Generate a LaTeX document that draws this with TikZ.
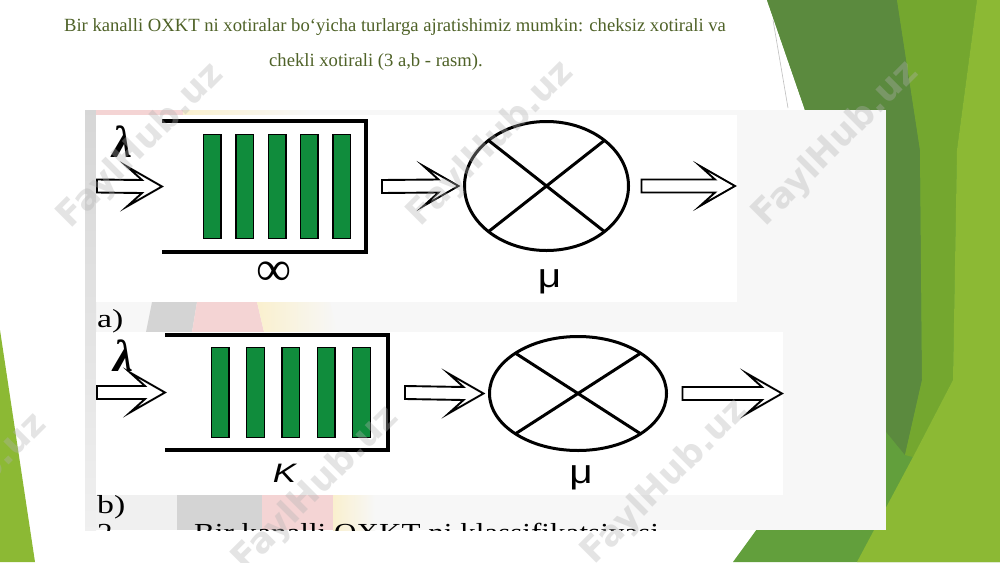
\documentclass[tikz,border=0pt]{standalone}
\usepackage{fontspec}
\setmainfont{Liberation Serif}
\newfontfamily\sansf{Liberation Sans}
\newfontfamily\wmf{DejaVu Sans}
\usetikzlibrary{calc,positioning,shapes.geometric}

\definecolor{titlegreen}{RGB}{79,98,40}
\definecolor{bargreen}{RGB}{16,140,60}
\definecolor{darkfacet}{RGB}{91,138,62}
\definecolor{midfacet}{RGB}{98,159,60}
\definecolor{brightfacet}{RGB}{116,167,47}
\definecolor{limefacet}{RGB}{140,185,52}
\definecolor{panelgrey}{RGB}{247,247,247}
\definecolor{bandgrey}{RGB}{212,212,212}
\definecolor{bandpink}{RGB}{244,212,212}
\definecolor{bandyellow}{RGB}{250,240,206}

\tikzstyle{queue}  = [rectangle, inner sep=0pt, outer sep=0pt]
\tikzstyle{server} = [ellipse, draw, line width=1.5mm, inner sep=0pt, outer sep=0pt]
\tikzstyle{flow}   = [draw=black, fill=white, line width=0.95mm, line join=miter]

\newcommand{\flow}[2]{\draw[flow] ($(#1)+(0,-6.5)$) -- ($(#2)+(-20,-6.5)$) -- ($(#2)+(-35,-20)$) -- (#2)
  -- ($(#2)+(-35,20)$) -- ($(#2)+(-20,6.5)$) -- ($(#1)+(0,6.5)$) -- cycle;}

\begin{document}
\begin{tikzpicture}[x=0.5mm, y=-0.5mm,
    slot/.style={draw, fill=bargreen, line width=0.7mm, minimum width=8.8mm, inner sep=0pt},
    wall/.style={line width=1.75mm},
    lbl/.style={font=\fontsize{37}{37}\selectfont, xscale=1.3, anchor=base west, inner sep=0pt},
    sym/.style={inner sep=0pt},
    wmtext/.style={font=\wmf\bfseries\fontsize{50}{50}\selectfont, text=gray!60, opacity=0.35, rotate=45}]

  \useasboundingbox (0,0) rectangle (1000,562);
  \fill[white] (0,0) rectangle (1000,562);

  \fill[midfacet] (767,0) -- (1000,0) -- (1000,562) -- (733,562) -- (800,470) -- (805,110) -- cycle;
  \fill[darkfacet] (767,0) -- (897,0) -- (920,150) -- (922,380) -- (905,455) -- (860,400) -- (805,110) -- cycle;
  \fill[brightfacet] (897,0) -- (977,0) -- (957,150) -- (953,380) -- (913,457) -- (905,455) -- (922,380) -- (920,150) -- cycle;
  \fill[limefacet] (977,0) -- (1000,0) -- (1000,562) -- (857,562) -- (913,457) -- (953,380) -- (957,150) -- cycle;
  \fill[limefacet] (0,330) -- (35,562) -- (0,562) -- cycle;
  \draw[black!25, line width=0.3mm] (773,20) -- (788,108);

  \fill[panelgrey] (85,110) rectangle (886,530);
  \shade[top color=black!16, bottom color=black!6] (85,110) rectangle (96,530);
  \fill[bandpink] (96,110) rectangle (183,115);
  \shade[left color=bandyellow, right color=panelgrey] (183,110) rectangle (310,115);
  \fill[bandgrey] (152,302) -- (197,302) -- (192,332) -- (146,332) -- cycle;
  \fill[bandpink] (197,302) -- (257,302) -- (264,332) -- (192,332) -- cycle;
  \shade[left color=bandyellow, right color=panelgrey] (257,302) -- (330,302) -- (337,332) -- (264,332) -- cycle;
  \fill[black!6] (96,495) rectangle (177,530);
  \fill[bandgrey] (177,495) rectangle (262,530);
  \fill[bandpink] (262,495) rectangle (333,530);
  \shade[left color=bandyellow, right color=panelgrey] (333,495) rectangle (375,530);
  \fill[white] (96,115) rectangle (737,302);
  \fill[white] (96,332) rectangle (783,495);

  \node[queue, minimum width=102mm, minimum height=65.5mm] (q1) at (264,186.5) {};
  \draw[wall] (q1.north west) -- (q1.north east) -- (q1.south east) -- (q1.south west);
  \foreach \i in {0,...,4}
    \node[slot, minimum height=52mm] (b1\i) at ($(q1.west)!{0.247+0.1585*\i}!(q1.east)$) {};
  \node[server, minimum width=82mm, minimum height=64.5mm] (s1) at (546.5,186) {};
  \draw[line width=1.5mm] (s1.north west) -- (s1.south east) (s1.north east) -- (s1.south west);
  \node[sym] (inf1) at (274,273.5) {\fontsize{70}{70}\selectfont ∞};
  \node[sym, xscale=1.2] (mu1) at (549.5,281.5) {\sansf\fontsize{48}{48}\selectfont μ};
  \node[sym] (lam1) at (122.5,142) {\bfseries\itshape\fontsize{64}{64}\selectfont λ};
  \coordinate (in1) at (97,186);
  \coordinate (m1) at ($(q1.east)+(16,0)$);
  \coordinate (m1t) at ($(s1.west)+(-6,0)$);
  \coordinate (o1) at ($(s1.east)+(13,0)$);
  \coordinate (o1t) at (735,186);
  \flow{in1}{q1.west}
  \flow{m1}{m1t}
  \flow{o1}{o1t}

  \node[queue, minimum width=111.5mm, minimum height=57.5mm] (q2) at (276.5,392.5) {};
  \draw[wall] (q2.north west) -- (q2.north east) -- (q2.south east) -- (q2.south west);
  \foreach \i in {0,...,4}
    \node[slot, minimum height=44.8mm] (b2\i) at ($(q2.west)!{0.247+0.1585*\i}!(q2.east)$) {};
  \node[server, minimum width=88.5mm, minimum height=57mm] (s2) at (578,393.5) {};
  \draw[line width=1.5mm] (s2.north west) -- (s2.south east) (s2.north east) -- (s2.south west);
  \node[sym, xscale=1.3] (k2) at (284.5,473.5) {\sansf\itshape\fontsize{38}{38}\selectfont K};
  \node[sym, xscale=1.2] (mu2) at (581,478) {\sansf\fontsize{48}{48}\selectfont μ};
  \node[sym] (lam2) at (123,356) {\bfseries\itshape\fontsize{64}{64}\selectfont λ};
  \coordinate (in2) at (97,392.5);
  \coordinate (m2) at ($(q2.east)+(17,0)$);
  \coordinate (m2t) at ($(s2.west)+(-6,0)$);
  \coordinate (o2) at ($(s2.east)+(16,0)$);
  \coordinate (o2t) at (782,393.5);
  \flow{in2}{q2.west}
  \flow{m2}{m2t}
  \flow{o2}{o2t}

  \node[lbl] (la) at (97,327) {a)};
  \node[lbl] (lb) at (97,513) {b)};
  \begin{scope}
    \clip (85,110) rectangle (886,530);
    \node[lbl, xscale=0.92] (cap2) at (97,541) {2.};
    \node[lbl, xscale=0.92] (cap2t) at (194,541) {Bir kanalli OXKT ni klassifikatsiyasi};
  \end{scope}

  \node[text=titlegreen, font=\fontsize{26.5}{26.5}\selectfont] (t1) at (395,27)
    {Bir kanalli OXKT ni xotiralar bo‘yicha turlarga ajratishimiz mumkin: cheksiz xotirali va};
  \node[text=titlegreen, font=\fontsize{26.5}{26.5}\selectfont] (t2) at (376,62) {chekli xotirali (3 a,b - rasm).};

  \node[wmtext] (w1) at (141,146) {FaylHub.uz};
  \node[wmtext] (w2) at (491,144) {FaylHub.uz};
  \node[wmtext] (w3) at (836,144) {FaylHub.uz};
  \node[wmtext] (w4) at (-36,496) {FaylHub.uz};
  \node[wmtext] (w5) at (316,489) {FaylHub.uz};
  \node[wmtext] (w6) at (665,482) {FaylHub.uz};
\end{tikzpicture}
\end{document}
